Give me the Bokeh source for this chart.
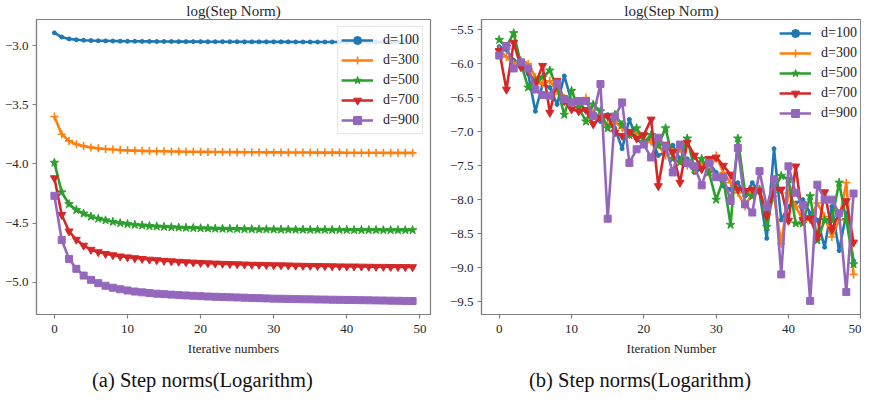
from bokeh.plotting import figure
from bokeh.layouts import row, column
from bokeh.models import FixedTicker, Range1d, Div
from bokeh.embed import file_html
from bokeh.resources import INLINE

# ---------------- data ----------------
iters = list(range(50))
series_labels = ["d=100", "d=300", "d=500", "d=700", "d=900"]

xticks = [0, 10, 20, 30, 40, 50]
xtick_labels = ["0", "10", "20", "30", "40", "50"]
left_yticks = [-5.0, -4.5, -4.0, -3.5, -3.0]
left_ytick_labels = ["\u22125.0", "\u22124.5", "\u22124.0", "\u22123.5", "\u22123.0"]
right_yticks = [-9.5, -9.0, -8.5, -8.0, -7.5, -7.0, -6.5, -6.0, -5.5]
right_ytick_labels = ["\u22129.5", "\u22129.0", "\u22128.5", "\u22128.0", "\u22127.5",
                      "\u22127.0", "\u22126.5", "\u22126.0", "\u22125.5"]
captions = ["(a) Step norms(Logarithm)", "(b) Step norms(Logarithm)"]

# (a) smooth curves
a_d100 = [-2.893, -2.928, -2.944, -2.951, -2.955, -2.958, -2.960, -2.961, -2.962, -2.963,
          -2.964, -2.964, -2.965, -2.965, -2.966, -2.966, -2.966, -2.967, -2.967, -2.967,
          -2.967, -2.968, -2.968, -2.968, -2.968, -2.968, -2.969, -2.969, -2.969, -2.969,
          -2.969, -2.969, -2.969, -2.970, -2.970, -2.970, -2.970, -2.970, -2.970, -2.970,
          -2.970, -2.970, -2.971, -2.971, -2.971, -2.971, -2.971, -2.971, -2.971, -2.971]
a_d300 = [-3.600, -3.750, -3.806, -3.834, -3.850, -3.861, -3.869, -3.875, -3.879, -3.883,
          -3.886, -3.888, -3.890, -3.892, -3.893, -3.894, -3.895, -3.896, -3.897, -3.898,
          -3.899, -3.899, -3.900, -3.900, -3.901, -3.901, -3.902, -3.902, -3.902, -3.903,
          -3.903, -3.903, -3.904, -3.904, -3.904, -3.904, -3.905, -3.905, -3.905, -3.905,
          -3.906, -3.906, -3.906, -3.906, -3.906, -3.907, -3.907, -3.907, -3.907, -3.907]
a_d500 = [-3.990, -4.240, -4.340, -4.390, -4.420, -4.445, -4.463, -4.477, -4.490, -4.500,
          -4.508, -4.515, -4.520, -4.525, -4.529, -4.532, -4.535, -4.538, -4.540, -4.542,
          -4.544, -4.545, -4.547, -4.548, -4.549, -4.550, -4.551, -4.552, -4.553, -4.553,
          -4.554, -4.555, -4.555, -4.556, -4.556, -4.557, -4.557, -4.557, -4.558, -4.558,
          -4.558, -4.559, -4.559, -4.559, -4.559, -4.560, -4.560, -4.560, -4.560, -4.560]
a_d700 = [-4.120, -4.430, -4.570, -4.640, -4.690, -4.725, -4.745, -4.760, -4.771, -4.781,
          -4.789, -4.796, -4.802, -4.808, -4.813, -4.818, -4.822, -4.826, -4.830, -4.833,
          -4.836, -4.839, -4.841, -4.843, -4.845, -4.847, -4.849, -4.851, -4.852, -4.854,
          -4.855, -4.856, -4.857, -4.859, -4.860, -4.861, -4.862, -4.863, -4.864, -4.865,
          -4.866, -4.866, -4.867, -4.868, -4.869, -4.869, -4.870, -4.871, -4.871, -4.872]
a_d900 = [-4.270, -4.643, -4.803, -4.887, -4.944, -4.980, -5.008, -5.030, -5.047, -5.060,
          -5.070, -5.079, -5.086, -5.092, -5.097, -5.101, -5.105, -5.109, -5.112, -5.115,
          -5.118, -5.121, -5.123, -5.125, -5.127, -5.129, -5.131, -5.133, -5.135, -5.137,
          -5.139, -5.140, -5.141, -5.143, -5.144, -5.145, -5.146, -5.147, -5.148, -5.149,
          -5.150, -5.151, -5.152, -5.153, -5.154, -5.155, -5.156, -5.157, -5.158, -5.159]

# (b) noisy curves
b_d100 = [-5.75, -5.80, -5.95, -6.00, -6.15, -6.70, -6.30, -6.35, -6.60, -6.18,
          -6.55, -6.55, -6.70, -6.75, -6.85, -6.75, -6.95, -7.25, -6.82, -7.10,
          -7.20, -7.10, -7.35, -7.30, -7.20, -7.40, -7.40, -7.60, -7.55, -7.45,
          -7.60, -7.80, -7.85, -7.75, -7.95, -7.75, -7.90, -8.57, -7.25, -8.30,
          -8.10, -8.05, -8.00, -8.20, -8.30, -8.70, -8.10, -8.75, -8.20, -8.90]
b_d300 = [-5.80, -5.90, -6.00, -5.95, -6.00, -6.20, -6.30, -6.25, -6.40, -6.50,
          -6.55, -6.60, -6.50, -6.75, -6.80, -6.90, -6.85, -6.95, -7.05, -7.00,
          -7.15, -7.15, -7.20, -7.35, -7.30, -7.25, -7.50, -7.55, -7.45, -7.60,
          -7.35, -7.60, -7.75, -7.90, -8.10, -7.90, -7.85, -8.20, -7.95, -8.65,
          -7.90, -8.10, -8.30, -8.30, -8.05, -8.25, -8.55, -8.30, -7.75, -9.10]
b_d500 = [-5.65, -5.75, -5.55, -6.00, -6.35, -6.25, -6.20, -6.10, -6.35, -6.75,
          -6.40, -6.65, -6.85, -6.60, -6.70, -6.95, -6.75, -6.90, -7.05, -6.95,
          -7.15, -7.05, -7.20, -6.95, -7.40, -7.45, -7.10, -7.55, -7.40, -7.60,
          -8.00, -7.70, -8.37, -7.10, -7.90, -7.95, -7.85, -8.40, -7.85, -7.65,
          -7.70, -8.35, -8.35, -7.95, -8.60, -8.30, -8.30, -7.75, -8.30, -8.95]
b_d700 = [-5.81, -6.38, -5.69, -6.05, -6.10, -6.30, -6.03, -6.72, -6.25, -6.55,
          -6.67, -6.70, -6.68, -6.89, -6.79, -6.77, -7.01, -7.06, -7.00, -7.10,
          -7.05, -6.82, -7.80, -7.19, -7.30, -7.75, -7.16, -7.35, -7.55, -7.40,
          -7.38, -7.50, -7.63, -7.85, -7.87, -7.85, -7.87, -8.24, -7.85, -7.85,
          -8.31, -7.51, -8.30, -8.27, -8.55, -7.89, -8.44, -8.20, -8.02, -8.63]
b_d900 = [-5.88, -5.74, -6.07, -5.98, -6.07, -6.38, -6.46, -6.47, -6.29, -6.52,
          -6.57, -6.55, -6.55, -6.77, -6.30, -8.28, -6.78, -6.57, -7.46, -7.26,
          -7.19, -7.38, -7.09, -7.22, -7.60, -7.19, -7.46, -7.51, -7.79, -7.46,
          -7.67, -7.67, -8.02, -7.24, -8.07, -8.19, -7.58, -8.11, -7.70, -9.10,
          -7.51, -7.90, -8.08, -9.49, -7.78, -8.00, -8.00, -8.20, -9.36, -7.91]

# ---------------- styles ----------------
COLORS = ["#1f77b4", "#ff7f0e", "#2ca02c", "#d62728", "#9467bd"]
MARKERS = ["circle", "cross", "star", "inverted_triangle", "square"]
MSIZES = [4, 8, 9, 8, 7]
FONT = "Liberation Serif"
SPINE = "#808080"
TXT = "#262626"
FIG_H = 365
CAP_H = 25


def make_panel(series, width, xr, yr, yticks, ytick_labels, xlabel,
               min_left, min_right, legend_border, legend_margin):
    p = figure(width=width, height=FIG_H, x_range=Range1d(*xr), y_range=Range1d(*yr),
               output_backend="svg", toolbar_location=None,
               min_border_left=min_left, min_border_right=min_right,
               min_border_top=0, min_border_bottom=51,
               title="log(Step Norm)", background_fill_color="white",
               border_fill_color="white")
    p.title.text_font = FONT
    p.title.text_font_size = "15px"
    p.title.text_font_style = "normal"
    p.title.text_color = TXT
    p.title.align = "center"
    p.title.standoff = 1

    for ys, lab, col, mk, ms in zip(series, series_labels, COLORS, MARKERS, MSIZES):
        p.line(iters, ys, line_color=col, line_width=2.6, legend_label=lab)
        p.scatter(iters, ys, marker=mk, size=ms, fill_color=col, line_color=col,
                  line_width=1.6 if mk == "cross" else 1, legend_label=lab)

    p.xgrid.visible = False
    p.ygrid.visible = False
    p.outline_line_color = SPINE
    p.outline_line_width = 1.2

    p.xaxis.ticker = FixedTicker(ticks=xticks)
    p.xaxis.major_label_overrides = {t: l for t, l in zip(xticks, xtick_labels)}
    p.yaxis.ticker = FixedTicker(ticks=yticks)
    p.yaxis.major_label_overrides = {t: l for t, l in zip(yticks, ytick_labels)}
    for ax in (p.xaxis[0], p.yaxis[0]):
        ax.axis_line_color = SPINE
        ax.axis_line_width = 1.2
        ax.major_tick_line_color = SPINE
        ax.major_tick_line_width = 1.2
        ax.major_tick_out = 4
        ax.major_tick_in = 0
        ax.minor_tick_line_color = None
        ax.major_label_text_font = FONT
        ax.major_label_text_font_size = "13px"
        ax.major_label_text_color = TXT
        ax.major_label_standoff = 4
    p.xaxis.major_label_standoff = 6
    p.xaxis.axis_label = xlabel
    p.xaxis.axis_label_text_font = FONT
    p.xaxis.axis_label_text_font_size = "13px"
    p.xaxis.axis_label_text_font_style = "normal"
    p.xaxis.axis_label_text_color = TXT
    p.xaxis.axis_label_standoff = 5

    lg = p.legend[0]
    lg.location = "top_right"
    lg.margin = legend_margin
    lg.padding = 3
    lg.spacing = 0
    lg.label_height = 20
    lg.glyph_height = 20
    lg.glyph_width = 32
    lg.label_standoff = 10
    lg.label_text_font = FONT
    lg.label_text_font_size = "14px"
    lg.label_text_color = TXT
    lg.background_fill_color = "white"
    lg.background_fill_alpha = 0.85
    if legend_border:
        lg.border_line_color = "#cccccc"
        lg.border_line_width = 1
    else:
        lg.border_line_alpha = 0
    return p


def caption_div(text, width, pad_left):
    html = ('<div style="font-family:\'Liberation Serif\',serif;font-size:20.5px;'
            'line-height:%dpx;color:#111111;white-space:nowrap;padding-left:%dpx;'
            'padding-top:6px;">%s</div>'
            % (CAP_H - 6, pad_left, text))
    return Div(text=html, width=width, height=CAP_H, margin=0)


p1 = make_panel([a_d100, a_d300, a_d500, a_d700, a_d900], 432, (-2.45, 51.45),
                (-5.273, -2.78), left_yticks, left_ytick_labels, "Iterative numbers",
                36, 2, True, 7)
p2 = make_panel([b_d100, b_d300, b_d500, b_d700, b_d900], 429, (-2.45, 50.1),
                (-9.69, -5.35), right_yticks, right_ytick_labels, "Iteration Number",
                49, 0, False, 1)

cap_a = caption_div(captions[0], 432, 92)
cap_b = caption_div(captions[1], 429, 97)

layout = column(row(p1, p2, spacing=0), row(cap_a, cap_b, spacing=0), spacing=0)
open("out.html", "w").write(file_html(layout, INLINE))
